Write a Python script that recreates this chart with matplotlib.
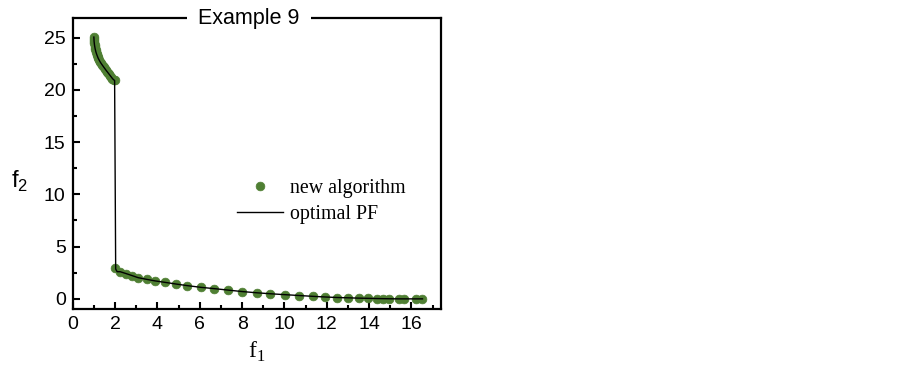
import matplotlib
matplotlib.use("Agg")
import matplotlib.pyplot as plt
from matplotlib.ticker import MultipleLocator

plt.rcParams["mathtext.fontset"] = "custom"
plt.rcParams["mathtext.rm"] = "Liberation Serif"
plt.rcParams["mathtext.sf"] = "Liberation Sans"

# upper part of the front (f1 < 2)
up_f1 = [1.0, 1.005, 1.01, 1.02, 1.03, 1.045, 1.06, 1.08, 1.1, 1.125, 1.15, 1.18, 1.21, 1.25, 1.29,
         1.33, 1.38, 1.43, 1.48, 1.53, 1.58, 1.63, 1.68, 1.73, 1.78, 1.83, 1.88, 1.93, 1.98]
up_f2 = [25.05, 24.85, 24.65, 24.45, 24.28, 24.1, 23.93, 23.77, 23.6, 23.45, 23.3, 23.15, 23.0, 22.85, 22.7,
         22.57, 22.42, 22.28, 22.14, 22.0, 21.86, 21.73, 21.6, 21.47, 21.34, 21.21, 21.08, 20.97, 20.9]

# lower part of the front (f1 >= 2)
low_f1 = [2.0, 2.24, 2.52, 2.8, 3.09, 3.51, 3.89, 4.36, 4.88, 5.4, 6.07, 6.68, 7.34, 8.0, 8.71, 9.33,
          10.04, 10.7, 11.36, 11.93, 12.5, 13.02, 13.5, 13.96, 14.39, 14.67, 14.95, 15.43, 15.66, 16.23, 16.52]
low_f2 = [2.93, 2.6, 2.42, 2.23, 2.03, 1.86, 1.72, 1.58, 1.42, 1.27, 1.1, 0.98, 0.84, 0.7, 0.58, 0.49,
          0.4, 0.32, 0.24, 0.18, 0.13, 0.1, 0.07, 0.05, 0.03, 0.02, 0.01, 0.0, 0.0, 0.0, 0.0]

pf_f1 = up_f1 + [2.03, 2.1] + low_f1[1:]
pf_f2 = up_f2 + [2.85, 2.6] + low_f2[1:]

green = "#4f7f33"

fig = plt.figure(figsize=(9.03, 3.78), dpi=100)
ax = fig.add_axes([0.0805, 0.1817, 0.408, 0.770])

ax.plot(up_f1 + low_f1, up_f2 + low_f2, "o", color=green, ms=6.3, mec=green, mew=0.5,
        label="new algorithm", zorder=2)
ax.plot(pf_f1, pf_f2, "-", color="black", lw=1.0, label="optimal PF", zorder=3)

ax.set_xlim(0, 17.4)
ax.set_ylim(-1, 26.85)
ax.xaxis.set_major_locator(MultipleLocator(2))
ax.xaxis.set_minor_locator(MultipleLocator(1))
ax.yaxis.set_major_locator(MultipleLocator(5))
ax.yaxis.set_minor_locator(MultipleLocator(2.5))

for s in ax.spines.values():
    s.set_linewidth(1.6)
ax.tick_params(which="both", direction="in", top=False, right=False, width=1.5)
ax.tick_params(which="major", length=5, labelsize=14, pad=5)
ax.tick_params(which="minor", length=3)
for lab in ax.get_xticklabels() + ax.get_yticklabels():
    lab.set_family("Liberation Sans")

ax.text(0.479, 1.0, "Example 9", transform=ax.transAxes, ha="center", va="center",
        fontsize=15.5, family="Liberation Sans",
        bbox=dict(facecolor="white", edgecolor="none", pad=8))

ax.set_xlabel("f$_1$", fontsize=17, family="Liberation Serif", labelpad=5)
ax.set_ylabel(r"$\mathsf{f}_\mathsf{2}$", fontsize=17, rotation=0, va="center")
ax.yaxis.set_label_coords(-0.145, 0.44)

leg = ax.legend(loc="center left", bbox_to_anchor=(0.425, 0.37), frameon=False,
                prop={"family": "Liberation Serif", "size": 14.3}, handlelength=2.3,
                handletextpad=0.35, labelspacing=0.35, borderaxespad=0, numpoints=1)

fig.savefig("out.png", dpi=100)
